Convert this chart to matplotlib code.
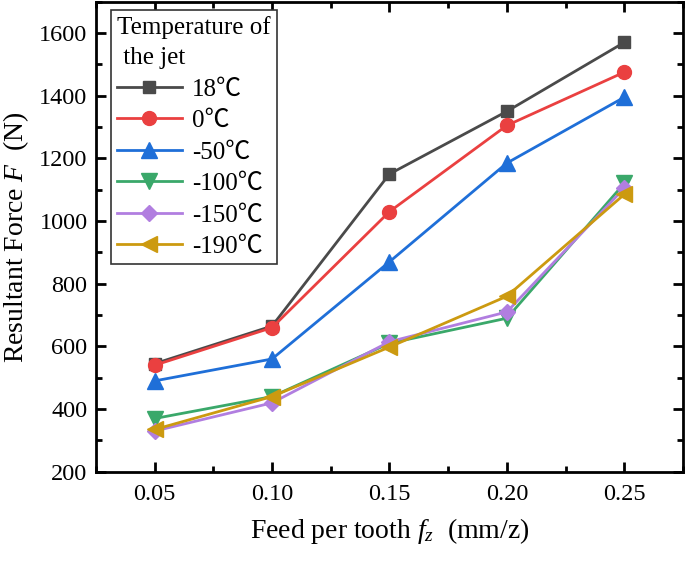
import matplotlib
matplotlib.use('Agg')
import matplotlib.pyplot as plt
from matplotlib.ticker import AutoMinorLocator

plt.rcParams['font.family'] = ['Liberation Serif', 'Noto Sans CJK SC']
plt.rcParams['mathtext.fontset'] = 'custom'
plt.rcParams['mathtext.rm'] = 'Liberation Serif'
plt.rcParams['mathtext.it'] = 'Liberation Serif:italic'

feed = [0.05, 0.10, 0.15, 0.20, 0.25]

labels = ['18℃', '0℃', '-50℃', '-100℃', '-150℃', '-190℃']
f_18 = [545, 665, 1150, 1350, 1570]
f_0 = [540, 660, 1030, 1305, 1475]
f_m50 = [490, 560, 870, 1185, 1395]
f_m100 = [370, 440, 610, 690, 1120]
f_m150 = [330, 420, 615, 710, 1105]
f_m190 = [335, 440, 598, 760, 1085]

series = [f_18, f_0, f_m50, f_m100, f_m150, f_m190]
colors = ['#4a4a4a', '#ea4040', '#1f6fd8', '#3aa86a', '#b17ee0', '#cc9a10']
markers = ['s', 'o', '^', 'v', 'D', '<']
msizes = [9, 10, 11, 11, 8, 11]

fig = plt.figure(figsize=(6.85, 5.61), dpi=100)
ax = fig.add_axes([0.140, 0.159, 0.857, 0.838])

for vals, lab, c, m, ms in zip(series, labels, colors, markers, msizes):
    ax.plot(feed, vals, color=c, marker=m, markersize=ms, lw=2.0, label=lab)

ax.set_xlim(0.025, 0.275)
ax.set_ylim(200, 1700)
ax.xaxis.set_minor_locator(AutoMinorLocator(2))
ax.yaxis.set_minor_locator(AutoMinorLocator(2))
ax.set_xticks(feed)
ax.set_xticklabels(['0.05', '0.10', '0.15', '0.20', '0.25'])
ax.set_yticks([200, 400, 600, 800, 1000, 1200, 1400, 1600])

ax.tick_params(which='both', direction='in', top=True, right=True, width=2, labelsize=17.5)
ax.tick_params(which='major', length=7)
ax.tick_params(which='minor', length=4)
ax.tick_params(axis='x', pad=9)
ax.tick_params(axis='y', pad=6)
for s in ax.spines.values():
    s.set_linewidth(2)

ax.set_xlabel('Feed per tooth $f_z$  (mm/z)', fontsize=20, labelpad=8)
ax.set_ylabel('Resultant Force $F$  (N)', fontsize=20, labelpad=6)

leg = ax.legend(title='Temperature of\n the jet', loc='upper left', fontsize=18, title_fontsize=18,
                alignment='left', fancybox=False, edgecolor='#333333', framealpha=1,
                handlelength=2.6, numpoints=1, borderpad=0.25, labelspacing=0.36,
                handletextpad=0.4, borderaxespad=0, bbox_to_anchor=(0.025, 0.982))
leg.get_frame().set_linewidth(1.2)
leg.get_title().set_linespacing(1.45)

fig.savefig('out.png', dpi=100)
